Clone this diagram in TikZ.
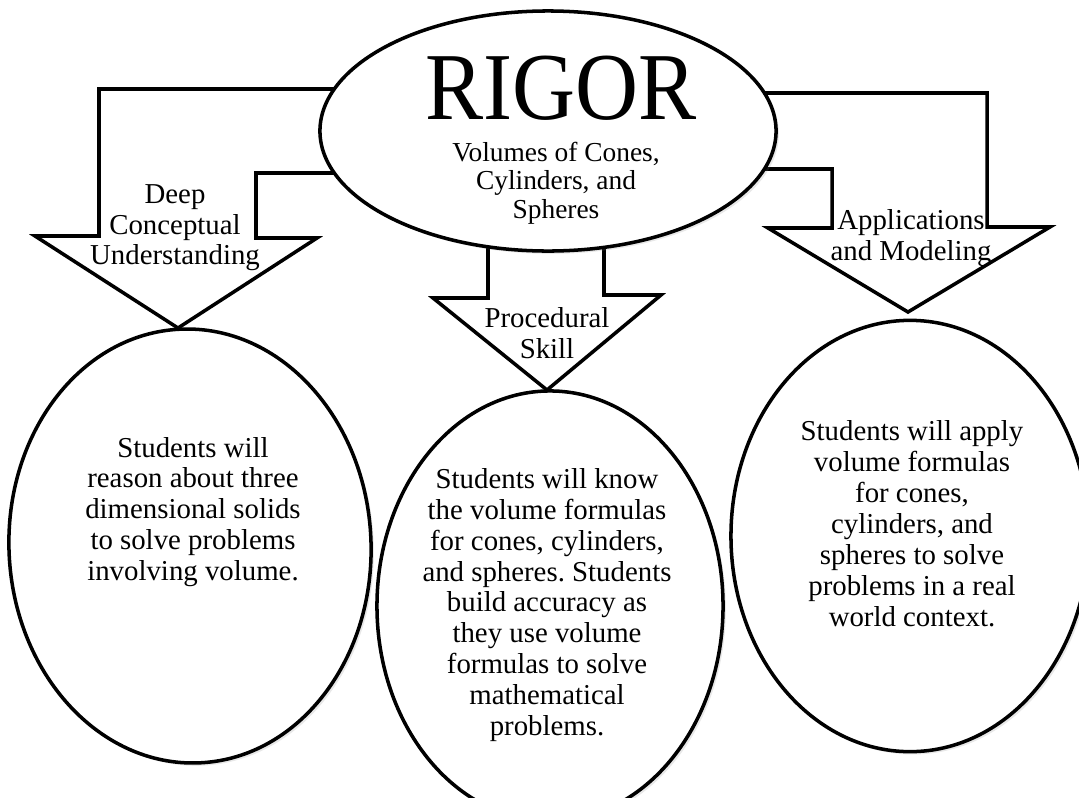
\documentclass[tikz,border=0pt]{standalone}
\usepackage{fontspec}
\setmainfont{Liberation Serif}
\frenchspacing
\usetikzlibrary{shapes.geometric, shadows, positioning}

\tikzset{
  bentarrow/.style={draw, line width=2.5pt, fill=white, line join=miter},
  oval/.style={ellipse, draw, line width=2.5pt, fill=white, inner sep=0pt,
    drop shadow={opacity=.18, shadow xshift=2pt, shadow yshift=-2pt}},
  ovaltext/.style={align=center, font=\fontsize{20.5}{22}\selectfont, inner sep=0pt},
  arrowlabel/.style={align=center, font=\fontsize{20.5}{21.7}\selectfont, inner sep=0pt}
}

\begin{document}
\begin{tikzpicture}[x=0.025cm, y=-0.025cm]
\useasboundingbox (0,0) rectangle (1079,797);
\clip (0,0) rectangle (1079,797);

\draw[bentarrow] (345,89)--(99,89)--(99,236)--(35,236)--(178,328)--(317,238)--(256,238)--(256,173)--(345,173)--cycle;
\draw[bentarrow] (755,93)--(987,93)--(987,227)--(1050,227)--(908,312)--(768,228)--(832,228)--(832,169)--(755,169)--cycle;
\draw[bentarrow] (488,235)--(488,298)--(433,298)--(547,390)--(661,295)--(604,295)--(604,235)--cycle;

\node[arrowlabel] (deep) at (175,228) {Deep\\Conceptual\\Understanding};
\node[arrowlabel] (proc) at (547,333) {Procedural\\Skill};
\node[arrowlabel] (appl) at (911,238) {Applications\\and Modeling};

\node[oval, minimum width=11.4cm, minimum height=6cm] (rigor) at (548,131) {};
\node[anchor=base, inner sep=0pt, font=\fontsize{62}{62}\selectfont, yscale=1.1] (title) at (561,119) {RIGOR};
\node[align=center, inner sep=0pt, font=\fontsize{19.5}{20.3}\selectfont] (topic) at (556,183) {Volumes of Cones,\\Cylinders, and\\Spheres};

\node[oval, rotate=2.5, minimum width=9.05cm, minimum height=10.85cm] (conc) at (190,546) {};
\node[ovaltext] (conctext) at (193,512) {Students will\\reason about three\\dimensional solids\\to solve problems\\involving volume.};

\node[oval, minimum width=8.65cm, minimum height=10.75cm] (skill) at (550,606) {};
\node[ovaltext] (skilltext) at (547,605) {Students will know\\the volume formulas\\for cones, cylinders,\\and spheres. Students\\build accuracy as\\they use volume\\formulas to solve\\mathematical\\problems.};

\node[oval, minimum width=8.95cm, minimum height=10.78cm] (model) at (910,536) {};
\node[ovaltext] (modeltext) at (912,524) {Students will apply\\volume formulas\\for cones,\\cylinders, and\\spheres to solve\\problems in a real\\world context.};
\end{tikzpicture}
\end{document}
